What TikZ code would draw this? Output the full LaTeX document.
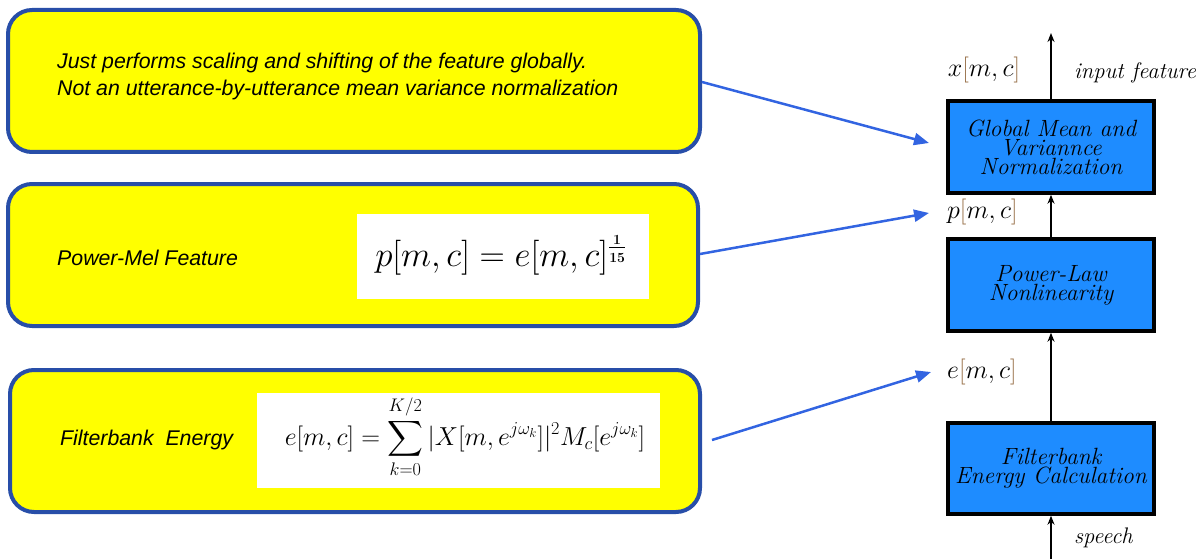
\RequirePackage{fix-cm}
\documentclass[tikz,border=0pt]{standalone}
\usepackage{amsmath}
\usepackage{fontspec}
\usetikzlibrary{arrows.meta}
\newfontfamily\arialfont{Liberation Sans}
\definecolor{ybord}{RGB}{40,78,168}
\definecolor{yfill}{RGB}{255,255,0}
\definecolor{bfill}{RGB}{30,140,255}
\definecolor{arblue}{RGB}{50,100,225}
\definecolor{brk}{RGB}{150,110,70}
\newcommand{\lb}{{\color{brk}[}}
\newcommand{\rb}{{\color{brk}]}}
\newcommand{\supnum}[1]{\text{\fontsize{14}{14}\selectfont\bfseries #1}}
\tikzset{
  note/.style={draw=ybord,line width=4pt,fill=yfill,rounded corners=24pt,inner sep=0pt},
  white/.style={fill=white,draw=none,inner sep=0pt},
  stage/.style={draw=black,line width=3.5pt,fill=bfill,inner sep=0pt,align=center,
     font=\fontsize{23.5}{19}\selectfont\itshape},
  notetext/.style={font=\arialfont\itshape\fontsize{21.3}{27}\selectfont,align=left,inner sep=0pt,anchor=west},
  flow/.style={line width=2.5pt,-{Stealth[length=9pt,width=7pt]}},
  link/.style={draw=arblue,line width=2.5pt,-{Triangle[length=15pt,width=12pt]}},
  sig/.style={inner sep=0pt,font=\fontsize{26}{26}\selectfont},
  side/.style={inner sep=0pt,anchor=west,font=\fontsize{22.5}{22}\selectfont\itshape}
}
\begin{document}
\begin{tikzpicture}[x=1pt,y=-1pt]
\useasboundingbox (0,0) rectangle (1202,559);
% yellow notes
\node[note,minimum width=692pt,minimum height=142pt] (n1) at (354,81) {};
\node[note,minimum width=690pt,minimum height=142pt] (n2) at (353,255) {};
\node[note,minimum width=690pt,minimum height=142pt] (n3) at (355,441) {};
\node[white,minimum width=292pt,minimum height=85pt] (w2) at (503,256.5) {};
\node[white,minimum width=403pt,minimum height=95pt] (w3) at (458.5,440.5) {};
\node[notetext] (t1) at (57,76) {Just performs scaling and shifting of the feature globally.\\Not an utterance-by-utterance mean variance normalization};
\node[notetext] (t2) at (57,258) {Power-Mel Feature};
\node[notetext] (t3) at (60,440) {Filterbank\ \ Energy};
\node[inner sep=0pt,font=\fontsize{35}{35}\selectfont] (f2) at (501,255) {$p[m,c]=e[m,c]^{\frac{\supnum{1}}{\supnum{15}}}$};
\node[inner sep=0pt,font=\fontsize{26}{26}\selectfont] (f3) at (465,437) {$\displaystyle e[m,c]=\sum_{k=0}^{K/2}|X[m,e^{j\omega_k}]|^2M_c[e^{j\omega_k}]$};
% pipeline
\node[stage,minimum width=206pt,minimum height=92pt] (A) at (1051,147) {Global Mean and\\Variannce\\Normalization};
\node[stage,minimum width=206pt,minimum height=92pt] (B) at (1051,285) {Power-Law\\Nonlinearity};
\node[stage,minimum width=206pt,minimum height=91pt] (C) at (1051,468.5) {Filterbank\\Energy Calculation};
\coordinate (top) at (1051,33);
\coordinate (bot) at (1051,559);
\draw[flow] (bot) -- (C.south);
\draw[flow] (C.north) -- (B.south);
\draw[flow] (B.north) -- (A.south);
\draw[flow] (A.north) -- (top);
\node[sig] (xl) at (984,70) {$x\lb m,c\rb$};
\node[sig,anchor=west] (pl) at (947,212) {$p\lb m,c\rb$};
\node[sig,anchor=west] (el) at (947,372) {$e\lb m,c\rb$};
\node[side] (inf) at (1074,73) {input feature};
\node[side] (sp) at (1074,538) {speech};
% links
\coordinate (a1) at (929,143);
\coordinate (a2) at (929,213);
\coordinate (a3) at (931,372);
\draw[link] (n1.east |- 0,82) -- (a1);
\draw[link] (n2.east |- 0,254) -- (a2);
\draw[link] (712,440) -- (a3);
\end{tikzpicture}
\end{document}
